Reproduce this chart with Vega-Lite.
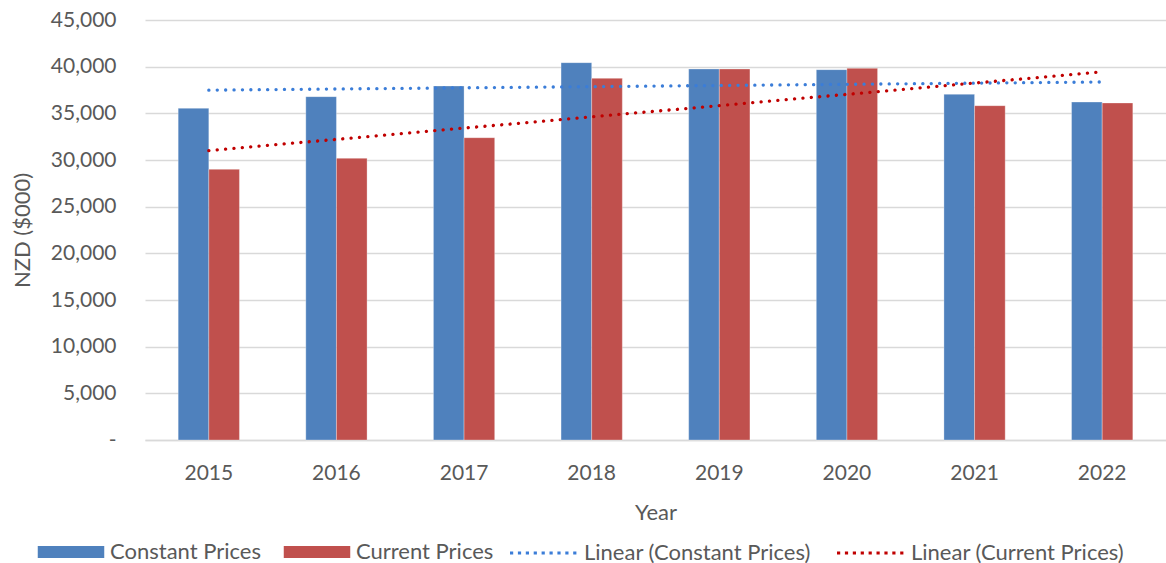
{
  "$schema": "https://vega.github.io/schema/vega-lite/v6.json",
  "autosize": {"type": "none"},
  "width": 1021,
  "height": 420,
  "padding": {"left": 145, "top": 20, "right": 0, "bottom": 123},
  "background": "white",
  "config": {
    "font": "Lato",
    "view": {"stroke": null},
    "axis": {"labelFont": "Lato", "titleFont": "Lato", "labelColor": "#595959", "titleColor": "#595959", "labelFontWeight": "normal", "titleFontWeight": "normal"},
    "legend": {"padding": 0, "offset": 0, "labelFont": "Lato", "labelFontSize": 22, "labelLimit": 400, "labelColor": "#595959", "labelOffset": 4, "columnPadding": 19, "symbolSize": 4624, "title": null}
  },
  "data": {
    "values": [
      {"year": 2015, "series": "Constant Prices", "trend": "Linear (Constant Prices)", "value": 35540},
      {"year": 2016, "series": "Constant Prices", "trend": "Linear (Constant Prices)", "value": 36790},
      {"year": 2017, "series": "Constant Prices", "trend": "Linear (Constant Prices)", "value": 37930},
      {"year": 2018, "series": "Constant Prices", "trend": "Linear (Constant Prices)", "value": 40430},
      {"year": 2019, "series": "Constant Prices", "trend": "Linear (Constant Prices)", "value": 39750},
      {"year": 2020, "series": "Constant Prices", "trend": "Linear (Constant Prices)", "value": 39680},
      {"year": 2021, "series": "Constant Prices", "trend": "Linear (Constant Prices)", "value": 37040},
      {"year": 2022, "series": "Constant Prices", "trend": "Linear (Constant Prices)", "value": 36210},
      {"year": 2015, "series": "Current Prices", "trend": "Linear (Current Prices)", "value": 29000},
      {"year": 2016, "series": "Current Prices", "trend": "Linear (Current Prices)", "value": 30180},
      {"year": 2017, "series": "Current Prices", "trend": "Linear (Current Prices)", "value": 32390},
      {"year": 2018, "series": "Current Prices", "trend": "Linear (Current Prices)", "value": 38750},
      {"year": 2019, "series": "Current Prices", "trend": "Linear (Current Prices)", "value": 39750},
      {"year": 2020, "series": "Current Prices", "trend": "Linear (Current Prices)", "value": 39820},
      {"year": 2021, "series": "Current Prices", "trend": "Linear (Current Prices)", "value": 35820},
      {"year": 2022, "series": "Current Prices", "trend": "Linear (Current Prices)", "value": 36110}
    ]
  },
  "layer": [
    {
      "mark": {"type": "bar", "stroke": "#ffffff", "strokeOpacity": 0.3, "strokeWidth": 1},
      "encoding": {
        "x": {
          "field": "year", "type": "ordinal",
          "scale": {"paddingInner": 0.52, "paddingOuter": 0.26},
          "axis": {"title": "Year", "titleFontSize": 22, "titlePadding": 19, "labelFontSize": 21, "labelAngle": 0, "ticks": false, "labelPadding": 22, "domain": true, "domainColor": "#d9d9d9", "domainWidth": 1.5, "grid": false}
        },
        "xOffset": {"field": "series", "type": "nominal", "scale": {"domain": ["Constant Prices", "Current Prices"], "paddingInner": 0, "paddingOuter": 0}},
        "y": {
          "field": "value", "type": "quantitative",
          "scale": {"domain": [0, 45000], "nice": false},
          "axis": {"title": "NZD ($000)", "titleFontSize": 22, "titlePadding": 16, "labelFontSize": 21, "values": [0, 5000, 10000, 15000, 20000, 25000, 30000, 35000, 40000, 45000], "labelExpr": "datum.value === 0 ? '-\u00a0\u00a0' : format(datum.value, ',')", "ticks": false, "domain": false, "labelPadding": 29, "grid": true, "gridColor": "#d9d9d9", "gridWidth": 1.5}
        },
        "fill": {
          "field": "series", "type": "nominal",
          "scale": {"domain": ["Constant Prices", "Current Prices"], "range": ["#4F81BD", "#C0504D"]},
          "legend": {
            "orient": "none", "direction": "horizontal", "legendX": -109, "legendY": 497,
            "symbolType": "M-1,-0.2H1V0.2H-1Z", "symbolOpacity": 1
          }
        }
      }
    },
    {
      "transform": [{"regression": "value", "on": "year", "groupby": ["trend"]}],
      "mark": {"type": "line", "strokeWidth": 3.3, "strokeDash": [0.1, 8.3], "strokeCap": "round"},
      "encoding": {
        "x": {"field": "year", "type": "quantitative", "scale": {"domain": [2014.5, 2022.5], "nice": false, "zero": false}, "axis": null},
        "y": {"field": "value", "type": "quantitative"},
        "stroke": {
          "field": "trend", "type": "nominal",
          "scale": {"domain": ["Linear (Constant Prices)", "Linear (Current Prices)"], "range": ["#3B7DD8", "#C00000"]},
          "legend": {
            "orient": "none", "direction": "horizontal", "legendX": 363, "legendY": 497,
            "symbolType": "stroke", "symbolStrokeWidth": 3.2, "symbolDash": [3.2, 4.7], "symbolOpacity": 1
          }
        }
      }
    }
  ],
  "resolve": {"scale": {"x": "independent"}}
}
